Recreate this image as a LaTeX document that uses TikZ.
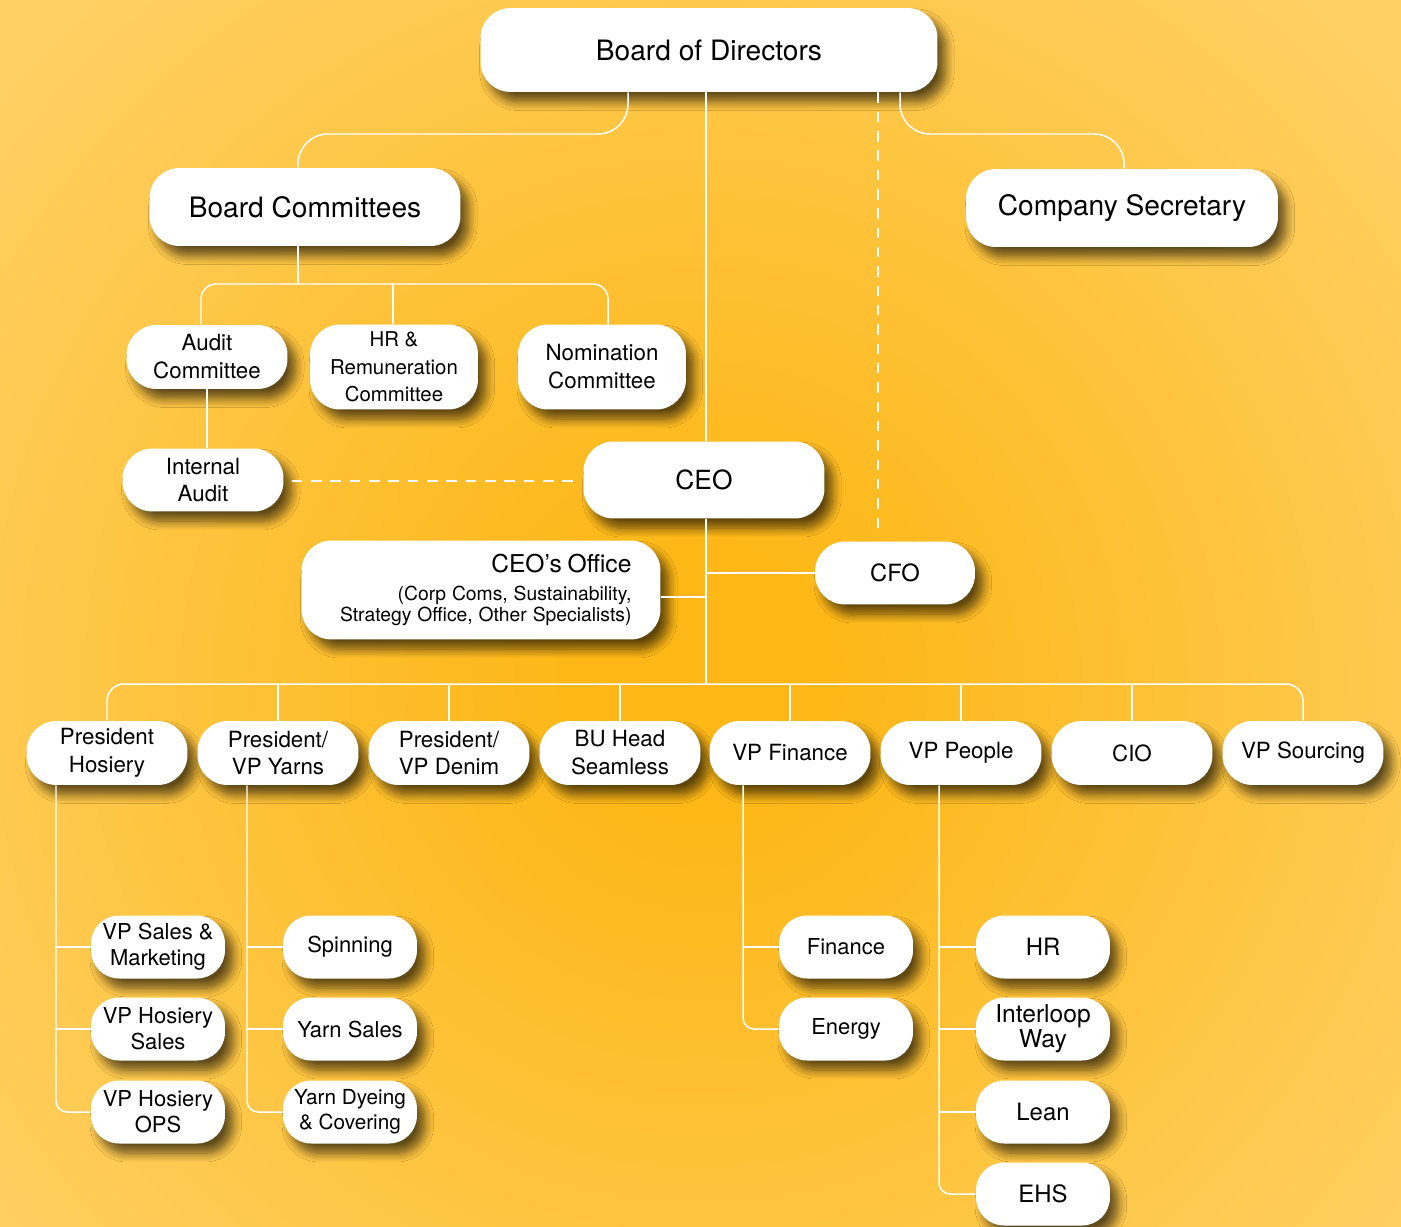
\documentclass[tikz,border=0pt]{standalone}
\usepackage{fontspec}
\setmainfont{TeX Gyre Heros}
\usetikzlibrary{shadows.blur}
\definecolor{bgin}{HTML}{FDB716}
\definecolor{bgout}{HTML}{FFD064}
\pgfdeclareradialshading{bgglow}{\pgfpoint{0bp}{0bp}}{color(0bp)=(bgin); color(3bp)=(bgin); color(23bp)=(bgout); color(50bp)=(bgout)}
\tikzset{
  box/.style={fill=white, rounded corners=0.6cm, align=center, inner sep=1pt,
    blur shadow={shadow xshift=4.5pt, shadow yshift=-5.5pt, shadow blur radius=5pt, shadow blur steps=10, shadow opacity=62}},
  bigbox/.style={box, font=\fontsize{16}{19}\selectfont},
  midbox/.style={box, minimum width=3.22cm, minimum height=1.28cm, font=\fontsize{12.7}{15.9}\selectfont},
  subbox/.style={box, rounded corners=0.56cm, minimum width=2.68cm, minimum height=1.26cm, font=\fontsize{12.5}{14.8}\selectfont},
  link/.style={draw=white, line width=0.85pt},
  dashlink/.style={link, dash pattern=on 6pt off 5pt}
}
\begin{document}
\begin{tikzpicture}[x=0.02cm, y=-0.02cm]
\useasboundingbox (0,0) rectangle (1401,1227);
\begin{scope}
\clip (0,0) rectangle (1401,1227);
\shade[shading=bgglow] (700,680) circle (1000);
\end{scope}

\node[bigbox, minimum width=9.14cm, minimum height=1.68cm] (bod) at (709,50) {Board of Directors};
\node[bigbox, minimum width=6.22cm, minimum height=1.56cm] (bc) at (305,207) {Board Committees};
\node[bigbox, minimum width=6.24cm, minimum height=1.56cm] (cs) at (1122,208) {Company Secretary};
\node[midbox] (ac) at (207,357) {Audit\\Committee};
\node[midbox, minimum width=3.36cm, minimum height=1.70cm, font=\fontsize{11.6}{15.6}\selectfont] (hrc) at (394,367) {HR \&\\Remuneration\\Committee};
\node[midbox, minimum width=3.36cm, minimum height=1.70cm] (nc) at (602,367) {Nomination\\Committee};
\node[midbox, minimum height=1.26cm] (ia) at (203,480) {Internal\\Audit};
\node[bigbox, minimum width=4.82cm, minimum height=1.54cm, font=\fontsize{15}{18}\selectfont] (ceo) at (704,480) {CEO};
\node[box, minimum width=7.18cm, minimum height=1.98cm, text width=6.02cm, inner xsep=0.58cm, align=right] (ceoo) at (481,590)
  {\fontsize{14}{17}\selectfont CEO’s Office\\[1pt] \fontsize{11}{14.6}\selectfont (Corp Coms, Sustainability,\\ Strategy Office, Other Specialists)};
\node[midbox, minimum width=3.20cm, minimum height=1.26cm, font=\fontsize{13.5}{16}\selectfont] (cfo) at (895,573) {CFO};

\node[midbox] (ph) at (107,753) {President\\Hosiery};
\node[midbox] (py) at (278,753) {President/\\VP Yarns};
\node[midbox] (pd) at (449,753) {President/\\VP Denim};
\node[midbox] (bu) at (620,753) {BU Head\\Seamless};
\node[midbox] (vpf) at (790,753) {VP Finance};
\node[midbox] (vpp) at (961,753) {VP People};
\node[midbox] (cio) at (1132,753) {CIO};
\node[midbox] (vps) at (1303,753) {VP Sourcing};

\node[subbox] (sm) at (158,947) {VP Sales \&\\Marketing};
\node[subbox] (hs) at (158,1029) {VP Hosiery\\Sales};
\node[subbox] (ops) at (158,1112) {VP Hosiery\\OPS};
\node[subbox] (spin) at (350,947) {Spinning};
\node[subbox] (ys) at (350,1029) {Yarn Sales};
\node[subbox, font=\fontsize{11.8}{14.2}\selectfont] (yd) at (350,1112) {Yarn Dyeing\\\& Covering};
\node[subbox] (fin) at (846,947) {Finance};
\node[subbox] (en) at (846,1029) {Energy};
\node[subbox, font=\fontsize{13.6}{15}\selectfont] (hrn) at (1043,947) {HR};
\node[subbox, font=\fontsize{14}{14.3}\selectfont] (iw) at (1043,1029) {Interloop\\Way};
\node[subbox, font=\fontsize{13.6}{15}\selectfont] (lean) at (1043,1112) {Lean};
\node[subbox, font=\fontsize{13.6}{15}\selectfont] (ehs) at (1043,1194) {EHS};

\draw[link, rounded corners=0.6cm] (bod.south -| 628,0) |- (460,134) -| (bc.north -| 298,0);
\draw[link, rounded corners=0.6cm] (bod.south -| 900,0) |- (1000,134) -| (cs.north -| 1124,0);
\draw[link] (bod.south -| 706,0) -- (ceo.north -| 706,0);
\draw[dashlink, shorten >=4pt] (bod.south -| 878,0) -- (cfo.north -| 878,0);
\draw[link] (bc.south -| 298,0) -- (298,284);
\draw[link, rounded corners=0.3cm] (ac.north -| 201,0) |- (400,284) -| (nc.north -| 608,0);
\draw[link] (hrc.north -| 393,0) -- (393,284);
\draw[link] (ac.south) -- (ia.north -| ac.south);
\draw[dashlink, shorten <=4.5pt, shorten >=2.5pt] (ia.east |- 0,481) -- (ceo.west |- 0,481);
\draw[link] (ceo.south -| 706,0) -- (706,684);
\draw[link] (706,573) -- (cfo.west);
\draw[link] (ceoo.east |- 0,597) -- (706,597);
\draw[link, rounded corners=0.34cm] (ph.north) |- (700,684) -| (vps.north);
\foreach \n in {py,pd,bu,vpf,vpp,cio}
  \draw[link] (\n.north) -- (\n.north |- 0,684);

\draw[link, rounded corners=0.22cm] (ph.south -| 56,0) |- (ops.west);
\foreach \n in {sm,hs}
  \draw[link] (\n.west) -- (\n.west -| 56,0);
\draw[link, rounded corners=0.22cm] (py.south -| 247,0) |- (yd.west);
\foreach \n in {spin,ys}
  \draw[link] (\n.west) -- (\n.west -| 247,0);
\draw[link, rounded corners=0.22cm] (vpf.south -| 743,0) |- (en.west);
\draw[link] (fin.west) -- (fin.west -| 743,0);
\draw[link, rounded corners=0.22cm] (vpp.south -| 939,0) |- (ehs.west);
\foreach \n in {hrn,iw,lean}
  \draw[link] (\n.west) -- (\n.west -| 939,0);
\end{tikzpicture}
\end{document}
